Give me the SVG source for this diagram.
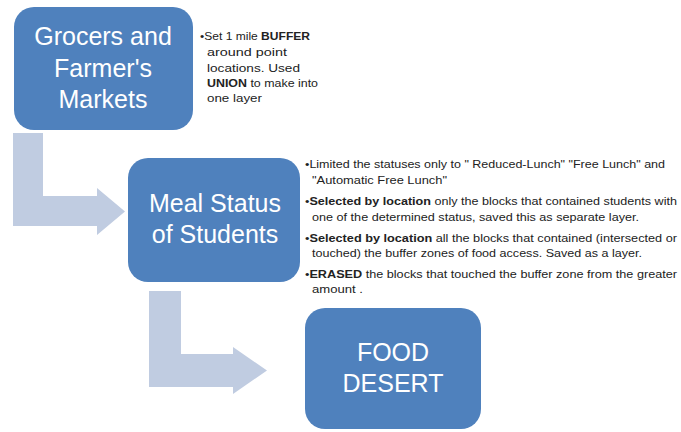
<svg xmlns="http://www.w3.org/2000/svg" width="681" height="432" viewBox="0 0 681 432">
  <style>
    .box { fill: #4F81BD; }
    .arrow { fill: #C0CCE1; }
    .title { font-family: "Liberation Sans", Arial, sans-serif; font-size: 25px; fill: #FFFFFF; text-anchor: middle; }
    .note { font-family: "Liberation Sans", Arial, sans-serif; font-size: 10.5px; fill: #222222; }
    .b { font-weight: bold; }
  </style>
  <rect width="681" height="432" fill="#FFFFFF"/>
  <g id="connectors">
    <path class="arrow" d="M13,133 H43 V196 H97 V188 L125,211.5 L97,235 V226 H13 Z"/>
    <path class="arrow" d="M149,291 H181 V354 H233 V347 L267,370.5 L233,394 V387 H149 Z"/>
  </g>
  <g id="grocers">
    <rect class="box" x="14" y="7" width="179" height="123" rx="20" ry="20"/>
    <text class="title" x="103" y="45">Grocers and</text>
    <text class="title" x="103" y="77">Farmer's</text>
    <text class="title" x="103" y="108">Markets</text>
  </g>
  <g id="grocers-notes">
    <text class="note" x="200" y="40" textLength="110" lengthAdjust="spacingAndGlyphs">•Set 1 mile <tspan class="b">BUFFER</tspan></text>
    <text class="note" x="207" y="56" textLength="80" lengthAdjust="spacingAndGlyphs">around point</text>
    <text class="note" x="207" y="72" textLength="93" lengthAdjust="spacingAndGlyphs">locations. Used</text>
    <text class="note" x="207" y="87" textLength="111" lengthAdjust="spacingAndGlyphs"><tspan class="b">UNION</tspan> to make into</text>
    <text class="note" x="207" y="102" textLength="55" lengthAdjust="spacingAndGlyphs">one layer</text>
  </g>
  <g id="meal-status">
    <rect class="box" x="128" y="158" width="172" height="124" rx="20" ry="20"/>
    <text class="title" x="215" y="212">Meal Status</text>
    <text class="title" x="215" y="243">of Students</text>
  </g>
  <g id="meal-notes">
    <text class="note" x="305" y="168" textLength="360" lengthAdjust="spacingAndGlyphs">•Limited the statuses only to " Reduced-Lunch" "Free Lunch" and</text>
    <text class="note" x="312" y="184" textLength="135" lengthAdjust="spacingAndGlyphs">"Automatic Free Lunch"</text>
    <text class="note" x="305" y="205" textLength="372" lengthAdjust="spacingAndGlyphs">•<tspan class="b">Selected by location</tspan>  only the blocks that contained students with</text>
    <text class="note" x="312" y="221" textLength="327" lengthAdjust="spacingAndGlyphs">one of the determined status, saved this as separate layer.</text>
    <text class="note" x="305" y="242" textLength="372" lengthAdjust="spacingAndGlyphs">•<tspan class="b">Selected by location</tspan>  all the blocks that  contained (intersected or</text>
    <text class="note" x="312" y="257" textLength="330" lengthAdjust="spacingAndGlyphs">touched) the buffer zones of food access.  Saved as a layer.</text>
    <text class="note" x="305" y="278" textLength="372" lengthAdjust="spacingAndGlyphs">•<tspan class="b">ERASED</tspan> the blocks that touched the buffer zone from the greater</text>
    <text class="note" x="312" y="293" textLength="51" lengthAdjust="spacingAndGlyphs">amount .</text>
  </g>
  <g id="food-desert">
    <rect class="box" x="305" y="308" width="176" height="121" rx="20" ry="20"/>
    <text class="title" x="393" y="361">FOOD</text>
    <text class="title" x="393" y="392">DESERT</text>
  </g>
</svg>
